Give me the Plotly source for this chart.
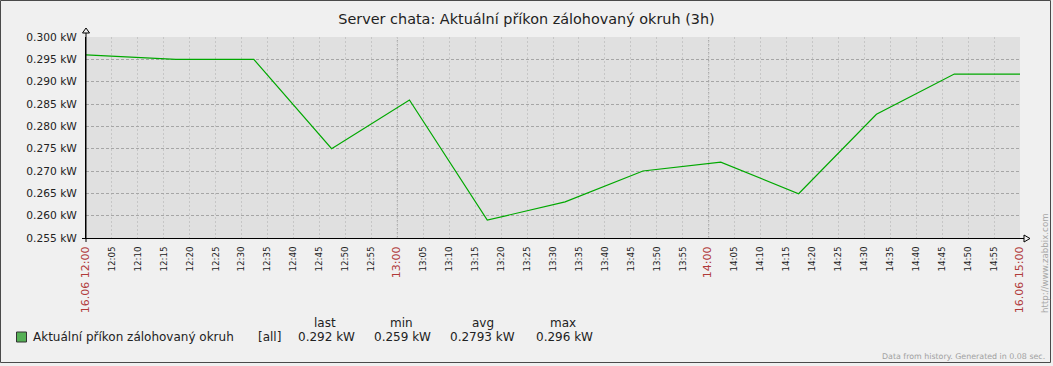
import plotly.graph_objects as go
import pandas as pd

# ---------------- data ----------------
title_text = "Server chata: Aktuální příkon zálohovaný okruh (3h)"
series_name = "Aktuální příkon zálohovaný okruh"

times = [
    "2024-06-16 12:00:00", "2024-06-16 12:17:20", "2024-06-16 12:32:20",
    "2024-06-16 12:47:20", "2024-06-16 13:02:20", "2024-06-16 13:17:20",
    "2024-06-16 13:32:20", "2024-06-16 13:47:20", "2024-06-16 14:02:20",
    "2024-06-16 14:17:20", "2024-06-16 14:32:20", "2024-06-16 14:47:20",
    "2024-06-16 15:00:00",
]
values = [0.2960, 0.2950, 0.2950, 0.2750, 0.2859, 0.2590, 0.2631,
          0.2700, 0.2720, 0.2649, 0.2827, 0.2917, 0.2917]

y_ticks = [0.255, 0.260, 0.265, 0.270, 0.275, 0.280, 0.285, 0.290, 0.295, 0.300]
y_tick_labels = ["0.255 kW", "0.260 kW", "0.265 kW", "0.270 kW", "0.275 kW",
                 "0.280 kW", "0.285 kW", "0.290 kW", "0.295 kW", "0.300 kW"]

x_start, x_end = "2024-06-16 12:00:00", "2024-06-16 15:00:00"
x_ticks = pd.date_range(x_start, x_end, freq="5min")
hour_lines = ["2024-06-16 13:00:00", "2024-06-16 14:00:00"]

legend_headers = ["last", "min", "avg", "max"]
legend_values = ["0.292 kW", "0.259 kW", "0.2793 kW", "0.296 kW"]
legend_scope = "[all]"
footer_text = "Data from history. Generated in 0.08 sec."
side_text = "http://www.zabbix.com"

# ---------------- layout helpers ----------------
W, H = 1053, 366
L, R, T, B = 86, 33, 37, 128
PW, PH = W - L - R, H - T - B


def px(x):
    return (x - L) / PW


def py(y):
    return (H - B - y) / PH


FONT = "DejaVu Sans"
RED = "#b03a3a"
TXT = "#222222"

x_tick_labels = []
for t in x_ticks:
    if t.minute == 0:
        if t.hour in (12, 15):
            lab = t.strftime("%d.%m %H:%M")
        else:
            lab = t.strftime("%H:%M")
        x_tick_labels.append(f'<span style="color:{RED};font-size:11px">{lab}</span>')
    else:
        x_tick_labels.append(t.strftime("%H:%M"))

fig = go.Figure()
fig.add_trace(go.Scatter(
    x=times, y=values, mode="lines",
    line=dict(color="#00a800", width=1.2),
    hoverinfo="skip", showlegend=False,
))

fig.update_layout(
    width=W, height=H,
    margin=dict(l=L, r=R, t=T, b=B, pad=0),
    paper_bgcolor="#f0f0f0",
    plot_bgcolor="#e0e0e0",
    font=dict(family=FONT, color=TXT),
    showlegend=False,
    title=dict(text=title_text, x=0.5, xref="container", xanchor="center",
               y=1 - 19 / H, yref="container", yanchor="middle",
               font=dict(family=FONT, size=14.4, color=TXT)),
    xaxis=dict(
        type="date", range=[x_start, x_end],
        tickmode="array", tickvals=list(x_ticks), ticktext=x_tick_labels,
        tickangle=-90, tickfont=dict(family=FONT, size=8.7, color=TXT),
        showgrid=True, gridcolor="#c6c6c6", gridwidth=1, griddash="2px,2px",
        showline=True, linecolor="#000000", linewidth=1,
        ticks="", ticklabelstandoff=4, zeroline=False,
    ),
    yaxis=dict(
        range=[0.255, 0.300],
        tickmode="array", tickvals=y_ticks, ticktext=y_tick_labels,
        tickfont=dict(family=FONT, size=10.67, color=TXT),
        showgrid=True, gridcolor="#a6a6a6", gridwidth=1, griddash="3px,2px",
        showline=True, linecolor="#000000", linewidth=1,
        ticks="", ticklabelstandoff=6, zeroline=False,
    ),
)

shapes = []
# darker hour grid lines
for h in hour_lines:
    shapes.append(dict(type="line", xref="x", yref="paper", x0=h, x1=h, y0=0, y1=1,
                       line=dict(color="#a0a0a0", width=1, dash="2px,2px"), layer="between"))
# axis extensions and arrows
shapes.append(dict(type="line", xref="paper", yref="paper", x0=px(86), x1=px(86),
                   y0=py(242), y1=py(33), line=dict(color="#000", width=1)))
shapes.append(dict(type="line", xref="paper", yref="paper", x0=px(82), x1=px(1024),
                   y0=py(238.5), y1=py(238.5), line=dict(color="#000", width=1)))
shapes.append(dict(type="path", xref="paper", yref="paper",
                   path=f"M {px(82.5)} {py(33)} L {px(86)} {py(28)} L {px(89.5)} {py(33)} Z",
                   line=dict(color="#000", width=1), fillcolor="#f0f0f0"))
shapes.append(dict(type="path", xref="paper", yref="paper",
                   path=f"M {px(1024)} {py(235)} L {px(1030)} {py(238.5)} L {px(1024)} {py(242)} Z",
                   line=dict(color="#000", width=1), fillcolor="#f0f0f0"))
# legend square
shapes.append(dict(type="rect", xref="paper", yref="paper",
                   x0=px(16.5), x1=px(26.5), y0=py(342), y1=py(332),
                   line=dict(color="#333", width=1), fillcolor="#55b055"))
# outer border
shapes.append(dict(type="rect", xref="paper", yref="paper",
                   x0=px(0.5), x1=px(1050.5), y0=py(362.5), y1=py(0.5),
                   line=dict(color="#4a4a4a", width=1), fillcolor="rgba(0,0,0,0)"))
fig.update_layout(shapes=shapes)

ann = []


def add_text(text, x, y, size=12, color=TXT, xanchor="left", angle=0):
    ann.append(dict(text=text, x=px(x), y=py(y), xref="paper", yref="paper",
                    xanchor=xanchor, yanchor="middle", showarrow=False,
                    textangle=angle, font=dict(family=FONT, size=size, color=color)))


add_text(series_name, 31, 337)
add_text(legend_scope, 256, 337)
value_x = [296, 372, 448, 534]
header_x = [325, 401, 483, 563]
for hx, h in zip(header_x, legend_headers):
    add_text(h, hx, 323, xanchor="center")
for vx, v in zip(value_x, legend_values):
    add_text(v, vx, 337)
add_text(footer_text, 1047, 356, size=7.9, color="#a0a0a0", xanchor="right")
ann.append(dict(text=side_text, x=px(1045), y=py(263), xref="paper", yref="paper",
                xanchor="center", yanchor="middle", showarrow=False, textangle=-90,
                font=dict(family=FONT, size=8.7, color="#a8a8a8")))
fig.update_layout(annotations=ann)

fig.write_html(
    "out.html",
    config={"displayModeBar": False},
    post_script="document.body.style.margin='0';document.body.style.overflow='hidden';",
)
